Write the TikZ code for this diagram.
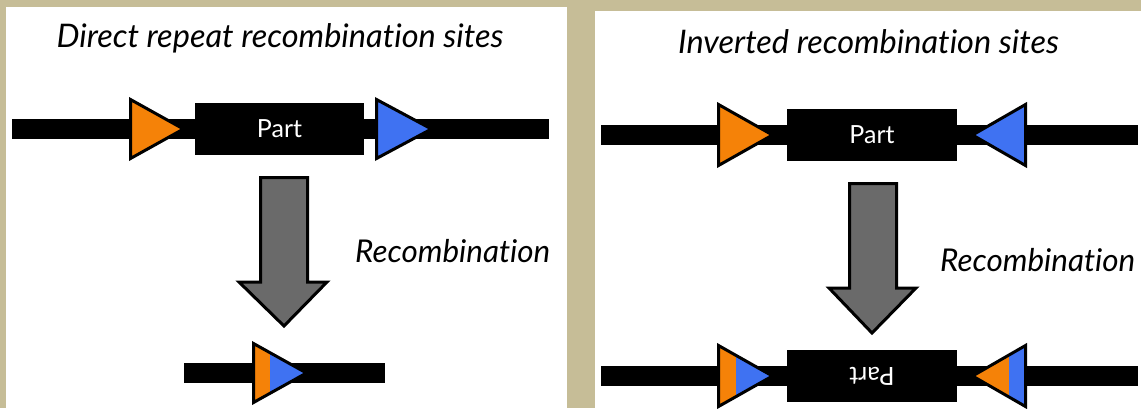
\documentclass[tikz,border=0pt]{standalone}
\usepackage{fontspec}
\setmainfont{Lato}[Ligatures=NoCommon]
\usepackage{graphicx}
\definecolor{panelbg}{HTML}{C6BD97}
\definecolor{siteorange}{HTML}{F58208}
\definecolor{siteblue}{HTML}{3F72F2}
\definecolor{arrowgray}{HTML}{6A6A6A}
\tikzset{
  dna/.style={fill=black},
  partbox/.style={fill=black, text=white, inner sep=0pt,
    font=\fontsize{25}{25}\selectfont},
  site/.style={draw=black, line width=3pt, line join=miter},
  bigarrow/.style={fill=arrowgray, draw=black, line width=3pt, line join=miter},
  title/.style={font=\fontsize{32.5}{32.5}\selectfont\itshape, anchor=base, inner sep=0pt},
  steplabel/.style={font=\fontsize{31.4}{31.4}\selectfont\itshape, anchor=base west, inner sep=0pt},
}
\begin{document}
\begin{tikzpicture}[x=1pt,y=-1pt]
  % frame and panels
  \useasboundingbox (0,0) rectangle (1141,408);
  \fill[panelbg] (0,0) rectangle (1141,408);
  \fill[white] (6,7) rectangle (567,408);
  \fill[white] (595,11) rectangle (1141,408);

  % ---------- direct repeat sites ----------
  \node[title] (t1) at (280,47) {Direct repeat recombination sites};
  \fill[dna] (12,119) rectangle (549,139);
  \node[partbox, minimum width=169pt, minimum height=52pt] (p1) at (279.5,129) {Part};
  \filldraw[site, fill=siteorange] (130.5,99.5) -- (183.5,129) -- (130.5,158.5) -- cycle;
  \filldraw[site, fill=siteblue] (376.5,99.5) -- (431.5,129) -- (376.5,158.5) -- cycle;
  \filldraw[bigarrow] (260.5,177.5) -- (307.5,177.5) -- (307.5,282) -- (327,282)
    -- (284,326) -- (239,282) -- (260.5,282) -- cycle;
  \node[steplabel] (r1) at (355,262) {Recombination};
  % product: single merged site
  \fill[dna] (184,363) rectangle (385,383);
  \begin{scope}
    \clip (253.5,343.5) -- (306.5,373) -- (253.5,402.5) -- cycle;
    \fill[siteorange] (250,340) rectangle (270,406);
    \fill[siteblue] (270,340) rectangle (310,406);
  \end{scope}
  \draw[site] (253.5,343.5) -- (306.5,373) -- (253.5,402.5) -- cycle;

  % ---------- inverted sites ----------
  \node[title] (t2) at (868.5,53) {Inverted recombination sites};
  \fill[dna] (601,125) rectangle (1138,145);
  \node[partbox, minimum width=170pt, minimum height=52pt] (p2) at (872,135) {Part};
  \filldraw[site, fill=siteorange] (718.5,104.5) -- (772.5,135) -- (718.5,165.5) -- cycle;
  \filldraw[site, fill=siteblue] (1025.5,104.5) -- (972.5,135) -- (1025.5,165.5) -- cycle;
  \filldraw[bigarrow] (849.5,183.5) -- (896.5,183.5) -- (896.5,288) -- (916,288)
    -- (872,333) -- (829,288) -- (849.5,288) -- cycle;
  \node[steplabel] (r2) at (940,271) {Recombination};
  % product: inverted part between hybrid sites
  \fill[dna] (601,366) rectangle (1138,386);
  \node[partbox, minimum width=170pt, minimum height=52pt, rotate=180] (p3) at (872,376) {Part};
  \begin{scope}
    \clip (718.5,345.5) -- (772.5,376) -- (718.5,406.5) -- cycle;
    \fill[siteorange] (715,342) rectangle (736,410);
    \fill[siteblue] (736,342) rectangle (776,410);
  \end{scope}
  \draw[site] (718.5,345.5) -- (772.5,376) -- (718.5,406.5) -- cycle;
  \begin{scope}
    \clip (1025.5,345.5) -- (972.5,376) -- (1025.5,406.5) -- cycle;
    \fill[siteorange] (968,342) rectangle (1009,410);
    \fill[siteblue] (1009,342) rectangle (1030,410);
  \end{scope}
  \draw[site] (1025.5,345.5) -- (972.5,376) -- (1025.5,406.5) -- cycle;
\end{tikzpicture}
\end{document}
